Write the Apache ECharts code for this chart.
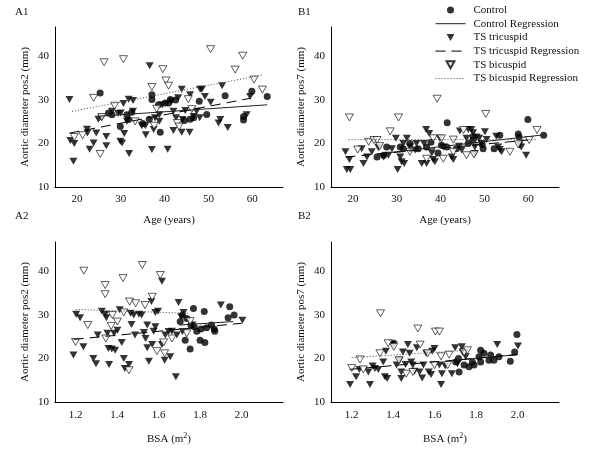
<!DOCTYPE html>
<html><head><meta charset="utf-8">
<script src="https://cdn.jsdelivr.net/npm/echarts@6/dist/echarts.min.js"></script>
<style>html,body{margin:0;padding:0;background:#fff}#c{width:600px;height:451px}</style>
</head><body><div id="c"></div>
<script>
// ---------- DATA ----------
const seriesNames = ['Control','Control Regression','TS tricuspid','TS tricuspid Regression','TS bicuspid','TS bicuspid Regression'];
const panelLabels = ['A1','B1','A2','B2'];
const xAxisNames = ['Age (years)','Age (years)','BSA (m{sup|2})','BSA (m{sup|2})'];
const yAxisNames = ['Aortic diameter pos2 (mm)','Aortic diameter pos7 (mm)','Aortic diameter pos2 (mm)','Aortic diameter pos7 (mm)'];
const ageTickLabels = [20,30,40,50,60];
const bsaTickLabels = [1.2,1.4,1.6,1.8,2.0];
const yTickLabels = [10,20,30,40];

// A1: age vs pos2
const a1Control = [[25.3,31.6],[27.2,27.0],[28.0,26.6],[29.9,23.9],[31.4,26.6],[31.8,25.5],[32.5,27.2],[35.0,24.6],[36.5,25.6],[37.1,31.2],[37.1,30.1],[38.6,28.9],[39.0,22.6],[40.1,29.3],[40.9,29.3],[41.3,30.1],[42.5,30.0],[44.5,25.3],[45.8,25.6],[46.6,25.9],[47.9,29.7],[49.6,26.7],[53.8,31.0],[58.0,26.2],[58.0,25.4],[59.9,32.0],[63.4,30.8]];
const a1Tricuspid = [[18.3,30.1],[18.5,20.7],[19.4,20.0],[19.2,15.9],[22.3,23.3],[22.4,22.4],[22.9,18.7],[23.8,20.1],[24.4,22.4],[24.9,25.6],[25.6,25.9],[26.7,21.6],[26.7,19.5],[28.0,27.4],[29.4,26.9],[30.0,27.0],[29.9,20.5],[30.3,20.1],[30.6,29.2],[30.8,22.3],[31.8,30.2],[32.8,29.9],[31.9,17.7],[31.4,25.1],[32.8,27.4],[34.8,24.1],[35.6,24.1],[35.7,22.0],[36.6,37.9],[37.1,18.6],[37.5,23.2],[37.8,25.9],[38.8,25.1],[38.8,26.6],[39.5,28.9],[40.7,18.7],[41.6,29.7],[42.0,23.0],[42.0,27.4],[42.6,25.9],[43.1,30.5],[43.9,32.5],[44.1,25.5],[43.9,22.6],[44.7,27.6],[45.7,22.6],[45.8,31.2],[46.6,26.2],[47.3,27.4],[48.0,25.9],[48.1,32.5],[48.5,32.5],[49.2,30.8],[50.5,29.5],[52.3,24.7],[52.7,25.5],[53.1,33.3],[54.4,23.7],[58.7,26.6],[59.5,30.8]];
const a1Bicuspid = [[19.4,21.5],[21.3,21.9],[23.8,30.5],[25.3,17.6],[25.7,26.1],[26.2,38.7],[28.6,28.7],[30.6,39.4],[33.3,25.1],[37.1,33.0],[37.6,24.1],[38.2,28.0],[39.6,37.1],[40.3,34.5],[40.9,33.3],[42.9,24.7],[43.3,23.9],[45.4,30.2],[46.2,27.9],[50.5,41.7],[56.1,37.0],[57.8,40.2],[60.4,34.7],[62.3,32.4]];
const a1ControlReg = [[25.3,26.3],[63.4,28.9]];
const a1TricuspidReg = [[18.3,22.4],[59.5,30.4]];
const a1BicuspidReg = [[18.9,27.4],[62.5,35.8]];

// B1: age vs pos7
const b1Control = [[25.5,16.9],[27.0,17.3],[27.7,19.2],[30.8,19.2],[31.5,18.8],[33.0,20.0],[34.9,18.8],[36.8,19.2],[37.8,20.3],[39.4,17.8],[40.2,19.6],[41.4,19.2],[41.5,24.8],[43.6,18.8],[46.3,20.0],[47.4,20.8],[47.4,21.6],[49.5,19.8],[49.7,18.8],[52.2,18.8],[53.5,21.9],[57.7,22.2],[57.9,21.5],[59.9,25.5],[63.5,21.9]];
const b1Tricuspid = [[18.3,18.1],[18.6,14.0],[19.4,14.0],[19.2,16.3],[22.0,18.8],[22.4,15.4],[23.2,16.9],[24.3,18.1],[25.8,19.1],[27.0,16.9],[28.1,17.3],[28.9,18.8],[29.8,21.2],[30.2,14.0],[30.8,16.9],[31.1,15.8],[31.7,15.4],[31.5,20.0],[32.3,21.2],[33.0,19.2],[34.2,18.5],[34.5,20.0],[35.7,15.4],[36.2,20.0],[36.8,15.4],[36.7,23.2],[37.4,22.3],[38.0,17.8],[38.3,16.3],[38.7,15.8],[39.8,21.2],[40.6,19.2],[42.5,16.9],[42.9,16.3],[44.2,19.4],[44.8,18.5],[44.4,22.9],[45.9,21.2],[46.3,23.2],[47.0,23.2],[47.4,22.5],[47.8,19.2],[47.8,17.7],[48.2,21.5],[48.8,21.2],[49.3,20.0],[50.1,22.7],[50.5,20.9],[52.7,21.7],[53.1,19.2],[53.5,18.6],[53.9,18.1],[58.0,19.6],[58.4,19.2],[59.5,17.3]];
const b1Bicuspid = [[19.2,26.0],[21.1,18.6],[23.6,20.4],[24.8,20.8],[25.5,20.8],[26.1,19.4],[28.5,22.8],[30.4,26.0],[33.0,18.1],[36.8,16.5],[38.3,21.2],[39.2,30.3],[40.2,21.2],[40.6,16.5],[42.9,20.9],[42.9,18.1],[45.2,23.1],[45.9,17.3],[47.6,17.5],[50.3,26.8],[55.8,18.1],[57.7,19.8],[60.2,20.8],[62.0,23.1]];
const b1ControlReg = [[25.5,17.6],[63.5,22.0]];
const b1TricuspidReg = [[18.3,16.9],[60.0,20.8]];
const b1BicuspidReg = [[19.0,20.9],[62.0,20.9]];

// A2: BSA vs pos2
const a2Control = [[1.704,28.5],[1.715,30.0],[1.728,24.2],[1.736,29.2],[1.752,22.2],[1.756,27.7],[1.768,31.5],[1.772,27.3],[1.784,26.3],[1.800,24.2],[1.804,26.8],[1.820,30.8],[1.823,23.7],[1.831,27.1],[1.855,27.7],[1.868,26.8],[1.871,26.3],[1.935,29.4],[1.943,31.9],[1.964,30.0]];
const a2Tricuspid = [[1.189,20.8],[1.202,30.2],[1.221,29.4],[1.237,22.7],[1.285,20.0],[1.298,18.8],[1.306,25.4],[1.326,30.9],[1.342,30.2],[1.348,29.4],[1.353,25.8],[1.361,18.6],[1.358,22.3],[1.374,22.2],[1.390,21.9],[1.385,25.8],[1.401,26.5],[1.412,31.2],[1.422,23.7],[1.432,20.0],[1.437,17.7],[1.457,18.6],[1.465,30.4],[1.469,27.8],[1.480,30.0],[1.486,25.4],[1.505,30.2],[1.518,30.0],[1.529,26.0],[1.537,24.6],[1.545,22.5],[1.545,27.7],[1.553,19.4],[1.565,33.1],[1.569,23.2],[1.576,26.3],[1.584,30.6],[1.597,30.9],[1.584,27.3],[1.616,37.8],[1.616,23.2],[1.629,19.6],[1.632,25.4],[1.648,26.2],[1.656,20.4],[1.664,26.3],[1.683,15.8],[1.696,32.9],[1.709,29.6],[1.720,30.6],[1.715,26.2],[1.688,25.4],[1.763,27.7],[1.900,32.3],[2.004,28.8]];
const a2Bicuspid = [[1.199,23.8],[1.239,40.2],[1.258,27.7],[1.342,36.9],[1.342,34.8],[1.345,24.6],[1.371,27.5],[1.377,30.0],[1.401,28.5],[1.428,38.5],[1.432,30.6],[1.457,17.3],[1.460,33.1],[1.489,32.7],[1.521,41.5],[1.534,32.3],[1.569,34.2],[1.592,21.7],[1.608,39.2],[1.624,23.7],[1.629,21.2],[1.664,24.6],[1.736,25.8],[1.752,28.6]];
const a2ControlReg = [[1.70,27.7],[1.96,28.5]];
const a2TricuspidReg = [[1.19,24.4],[2.00,28.1]];
const a2BicuspidReg = [[1.20,31.3],[1.75,30.4]];

// B2: BSA vs pos7
const b2Control = [[1.702,19.2],[1.715,20.0],[1.718,16.9],[1.742,18.5],[1.766,18.1],[1.782,19.2],[1.790,18.5],[1.814,20.4],[1.822,21.9],[1.822,19.2],[1.838,21.2],[1.862,19.6],[1.870,20.8],[1.886,19.6],[1.910,20.4],[1.965,19.4],[1.986,21.5],[1.997,25.5]];
const b2Tricuspid = [[1.192,14.0],[1.221,15.8],[1.237,17.5],[1.280,16.9],[1.288,14.0],[1.301,18.3],[1.312,17.7],[1.328,17.5],[1.352,19.2],[1.360,15.8],[1.371,15.4],[1.365,21.7],[1.395,23.5],[1.403,23.2],[1.416,18.5],[1.431,19.6],[1.439,16.9],[1.439,15.4],[1.447,21.5],[1.460,18.6],[1.471,23.2],[1.479,21.2],[1.487,19.2],[1.495,18.5],[1.503,17.1],[1.514,22.5],[1.527,16.9],[1.540,15.5],[1.546,18.5],[1.559,21.2],[1.572,16.9],[1.583,16.3],[1.588,21.7],[1.599,22.3],[1.623,18.5],[1.631,14.0],[1.635,16.5],[1.651,18.3],[1.683,16.5],[1.699,22.5],[1.710,18.8],[1.731,22.7],[1.734,21.5],[1.750,20.4],[1.902,23.2],[2.002,22.9]];
const b2Bicuspid = [[1.200,17.8],[1.240,19.8],[1.256,17.5],[1.336,21.2],[1.339,30.4],[1.376,23.5],[1.403,22.7],[1.428,19.6],[1.463,16.5],[1.495,16.9],[1.519,26.9],[1.530,23.2],[1.567,21.2],[1.599,18.5],[1.604,26.2],[1.623,26.2],[1.631,20.5],[1.663,18.5],[1.670,20.9],[1.742,21.4],[1.758,21.9]];
const b2ControlReg = [[1.70,19.6],[2.00,20.9]];
const b2TricuspidReg = [[1.19,17.5],[2.00,20.9]];
const b2BicuspidReg = [[1.20,20.2],[1.76,21.9]];

// ---------- CHART ----------
const FONT = '"Liberation Serif", "DejaVu Serif", serif';
const TXT = '#111';
const panels = [
  {c:a1Control,t:a1Tricuspid,b:a1Bicuspid,cr:a1ControlReg,tr:a1TricuspidReg,br:a1BicuspidReg},
  {c:b1Control,t:b1Tricuspid,b:b1Bicuspid,cr:b1ControlReg,tr:b1TricuspidReg,br:b1BicuspidReg},
  {c:a2Control,t:a2Tricuspid,b:a2Bicuspid,cr:a2ControlReg,tr:a2TricuspidReg,br:a2BicuspidReg},
  {c:b2Control,t:b2Tricuspid,b:b2Bicuspid,cr:b2ControlReg,tr:b2TricuspidReg,br:b2BicuspidReg}
];
const gridPos = [
  {left:55, top:27, width:228, height:160},
  {left:331, top:27, width:228, height:160},
  {left:55, top:242, width:228, height:160},
  {left:331, top:242, width:228, height:160}
];
const triDown = 'path://M0,0L10,0L5,9Z';
const lineStyles = {
  'Control Regression': {color:'#222', width:1, type:'solid'},
  'TS tricuspid Regression': {color:'#000', width:1, type:[10,6]},
  'TS bicuspid Regression': {color:'#444', width:1, type:[1,2]}
};

const grids = gridPos.map(g => Object.assign({containLabel:false}, g));
const xAxes = gridPos.map((g,i) => {
  const isAge = i < 2;
  return {
    type:'value', gridIndex:i,
    min: isAge ? 15 : 1.1, max: isAge ? 67 : 2.2, interval: isAge ? 5 : 0.1,
    splitLine:{show:false}, axisTick:{show:false},
    axisLine:{lineStyle:{color:'#000', width:1}},
    axisLabel:{
      color:TXT, fontFamily:FONT, fontSize:11, margin: isAge ? 7 : 8,
      formatter: v => {
        if (isAge) { const r = Math.round(v); return ageTickLabels.indexOf(r) >= 0 && Math.abs(v-r)<1e-6 ? String(r) : ''; }
        const r = Math.round(v*10);
        const hit = bsaTickLabels.find(t => Math.round(t*10) === r);
        return hit !== undefined && Math.abs(v*10-r)<1e-4 ? hit.toFixed(1) : '';
      }
    },
    name: xAxisNames[i], nameLocation:'middle', nameGap: isAge ? 28 : 30,
    nameTextStyle:{color:TXT, fontFamily:FONT, fontSize:11,
      rich:{sup:{fontSize:8, verticalAlign:'bottom', padding:[0,0,7,0], fontFamily:FONT, color:TXT}}}
  };
});
const yAxes = gridPos.map((g,i) => ({
  type:'value', gridIndex:i, min:10, max:46.8, interval:10,
  splitLine:{show:false}, axisTick:{show:false},
  axisLine:{show:true, lineStyle:{color:'#000', width:1}},
  axisLabel:{color:TXT, fontFamily:FONT, fontSize:11, margin:6,
    formatter: v => yTickLabels.indexOf(Math.round(v)) >= 0 && Math.abs(v-Math.round(v))<1e-6 ? String(Math.round(v)) : ''},
  name: yAxisNames[i], nameLocation:'middle', nameGap:24,
  nameTextStyle:{color:TXT, fontFamily:FONT, fontSize:11}
}));

const series = [];
panels.forEach((p,i) => {
  series.push({name:seriesNames[0], type:'scatter', xAxisIndex:i, yAxisIndex:i, data:p.c,
    symbol:'circle', symbolSize:7, itemStyle:{color:'#000'}, z:2});
  series.push({name:seriesNames[2], type:'scatter', xAxisIndex:i, yAxisIndex:i, data:p.t,
    symbol:triDown, symbolSize:[8,7], itemStyle:{color:'#000'}, z:2});
  series.push({name:seriesNames[4], type:'scatter', xAxisIndex:i, yAxisIndex:i, data:p.b,
    symbol:triDown, symbolSize:[8,7], itemStyle:{color:'#fff', borderColor:'#000', borderWidth:0.8}, z:3});
  series.push({name:seriesNames[1], type:'line', xAxisIndex:i, yAxisIndex:i, data:p.cr, color:'#222',
    symbol:'none', lineStyle:lineStyles[seriesNames[1]], z:4});
  series.push({name:seriesNames[3], type:'line', xAxisIndex:i, yAxisIndex:i, data:p.tr, color:'#000',
    symbol:'none', lineStyle:lineStyles[seriesNames[3]], z:4});
  series.push({name:seriesNames[5], type:'line', xAxisIndex:i, yAxisIndex:i, data:p.br, color:'#444',
    symbol:'none', lineStyle:lineStyles[seriesNames[5]], z:4});
});

const legendData = seriesNames.map(n => lineStyles[n]
  ? {name:n, itemStyle:{opacity:0}, lineStyle:Object.assign({}, lineStyles[n])}
  : {name:n});

const graphics = panelLabels.map((t,i) => ({
  type:'text', left: (i%2===0) ? 15 : 298, top: (i<2) ? 7 : 211,
  style:{text:t, font:'11px ' + FONT, fill:TXT}
}));

const chart = echarts.init(document.getElementById('c'), null, {renderer:'canvas'});
chart.setOption({
  animation:false,
  backgroundColor:'#fff',
  grid:grids, xAxis:xAxes, yAxis:yAxes, series:series, graphic:graphics,
  legend:{
    data:legendData, orient:'vertical', left:435, top:4, padding:0,
    itemWidth:30, itemHeight:7, itemGap:1.7, selectedMode:false,
    textStyle:{color:TXT, fontFamily:FONT, fontSize:11, lineHeight:12, padding:[0,0,0,3]}
  }
});
</script>
</body></html>
